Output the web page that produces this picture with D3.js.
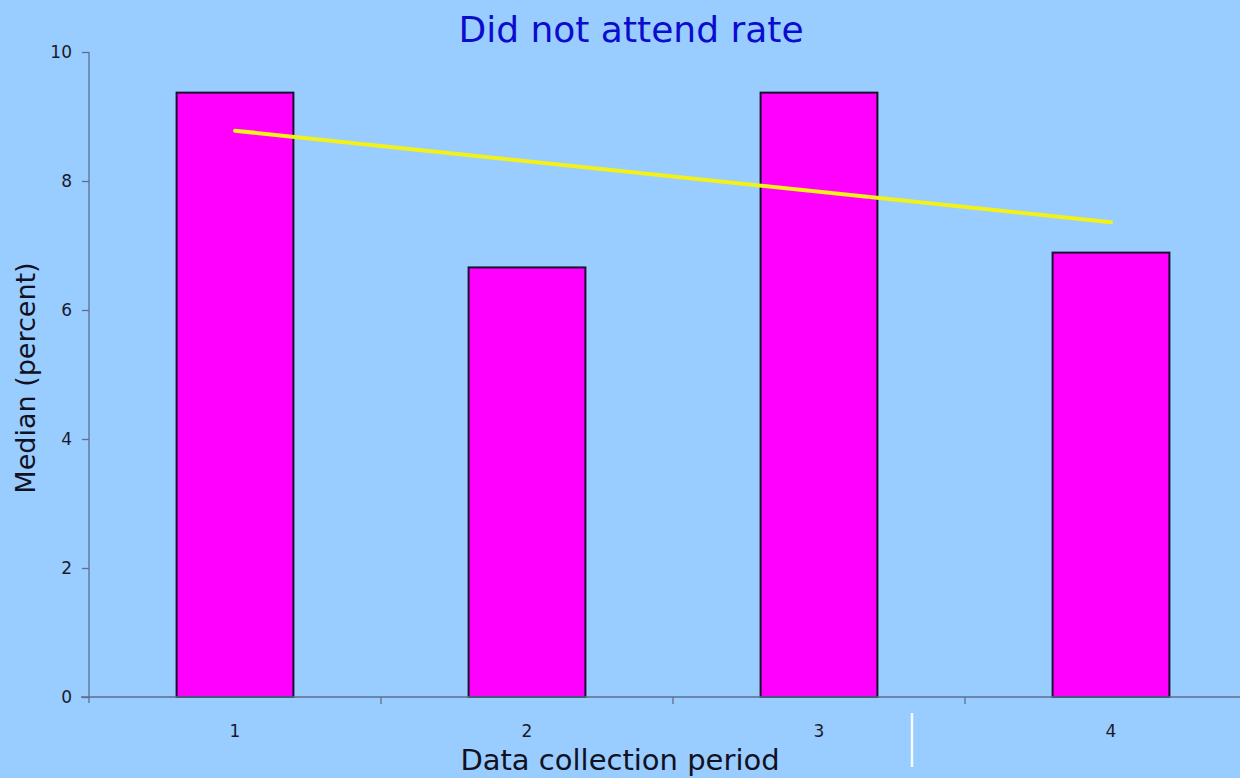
<!DOCTYPE html>
<html><head><meta charset="utf-8">
<script src="https://cdn.jsdelivr.net/npm/d3@7"></script>
<style>html,body{margin:0;padding:0;background:#99ccff;}svg{display:block;}</style>
</head><body>
<svg id="c" width="1240" height="778"></svg>
<script>
const categories = ["1","2","3","4"];
const medianValues = [9.37, 6.66, 9.37, 6.89];
const trendCategories = ["1","4"];
const trendValues = [8.78, 7.36];
const yTicks = [0,2,4,6,8,10];
const title = "Did not attend rate";
const xTitle = "Data collection period";
const yTitle = "Median (percent)";

(function(){
const svg = d3.select("#c");
const W=1240,H=778;
svg.append("rect").attr("width",W).attr("height",H).attr("fill","#99ccff");
const mLeft=89, mTop=52, mBottom=697, step=292;
const x = d3.scaleBand().domain(categories).range([mLeft,mLeft+step*categories.length]).paddingInner(0.6).paddingOuter(0.3);
const y = d3.scaleLinear().domain([0,10]).range([mBottom,mTop]);
const axisCol="#5d6f8e", font="DejaVu Sans, Verdana, sans-serif";

// bars
svg.selectAll("rect.bar").data(medianValues).join("rect").attr("class","bar")
  .attr("x",(d,i)=>x(categories[i])).attr("width",x.bandwidth())
  .attr("y",d=>y(d)).attr("height",d=>y(0)-y(d))
  .attr("fill","#ff00ff").attr("stroke","#1a1030").attr("stroke-width",2);

// y axis
const ya = svg.append("g").attr("transform",`translate(${mLeft},0)`)
  .call(d3.axisLeft(y).tickValues(yTicks).tickSize(7).tickPadding(10));
ya.select(".domain").attr("stroke",axisCol).attr("stroke-width",1.3).attr("d",`M0,${mTop}V${mBottom+6}`);
ya.selectAll(".tick line").attr("stroke",axisCol).attr("stroke-width",1.3);
ya.selectAll(".tick text").attr("fill","#1a1a2a").attr("font-family",font).attr("font-size",17);

// x axis
const xa = svg.append("g").attr("transform",`translate(0,${mBottom})`)
  .call(d3.axisBottom(x).tickSize(0).tickPadding(28));
xa.select(".domain").attr("stroke",axisCol).attr("stroke-width",1.3).attr("d",`M${mLeft-8},0H${W}`);
xa.selectAll(".tick text").attr("fill","#1a1a2a").attr("font-family",font).attr("font-size",17);
xa.selectAll("line.sep").data(categories.slice(1)).join("line").attr("class","sep")
  .attr("x1",d=>x(d)-x.step()*x.paddingInner()/2).attr("x2",d=>x(d)-x.step()*x.paddingInner()/2)
  .attr("y1",0).attr("y2",7).attr("stroke",axisCol).attr("stroke-width",1.3);

// trend line
const line = d3.line().x((d,i)=>x(trendCategories[i])+x.bandwidth()/2).y(d=>y(d));
svg.append("path").datum(trendValues).attr("d",line).attr("fill","none")
  .attr("stroke","#f2f21a").attr("stroke-width",4).attr("stroke-linecap","round");

// titles
svg.append("text").attr("x",631).attr("y",42).attr("text-anchor","middle")
  .attr("font-family",font).attr("font-size",36).attr("fill","#0c0ccc").text(title);
svg.append("text").attr("x",620).attr("y",770).attr("text-anchor","middle")
  .attr("font-family",font).attr("font-size",29).attr("fill","#111122").text(xTitle);
svg.append("text").attr("transform","translate(35,378) rotate(-90)").attr("text-anchor","middle")
  .attr("font-family",font).attr("font-size",27).attr("fill","#111122").text(yTitle);

// small white mark in the original image
svg.append("line").attr("x1",912).attr("x2",912).attr("y1",713).attr("y2",767)
  .attr("stroke","#ffffff").attr("stroke-width",2.5).attr("opacity",0.9);
})();
</script>
</body></html>
